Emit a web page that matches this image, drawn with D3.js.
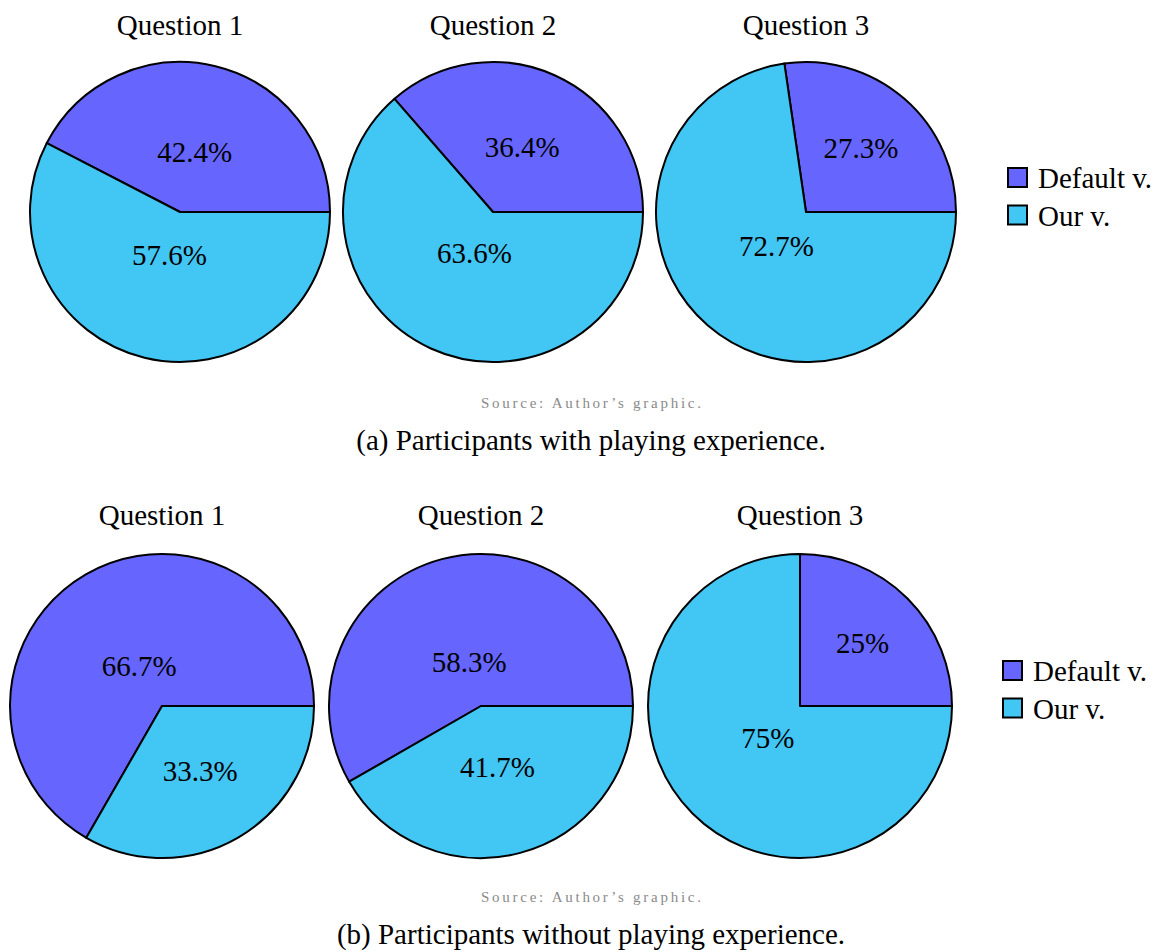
<!DOCTYPE html>
<html>
<head>
<meta charset="utf-8">
<script src="https://cdn.jsdelivr.net/npm/d3@7"></script>
<style>
  html, body { margin: 0; padding: 0; background: #fff; }
  svg { display: block; }
  text { font-family: "Liberation Serif", "Times New Roman", serif; fill: #000; }
</style>
</head>
<body>
<svg id="chart" width="1168" height="952"></svg>
<script>
// ---- data ----
const questions = ["Question 1", "Question 2", "Question 3"];
const seriesNames = ["Default v.", "Our v."];
const withExpDefault = [42.4, 36.4, 27.3];
const withExpOur = [57.6, 63.6, 72.7];
const withoutExpDefault = [66.7, 58.3, 25];
const withoutExpOur = [33.3, 41.7, 75];
const sourceText = "Source: Author\u2019s graphic.";
const captions = ["(a) Participants with playing experience.", "(b) Participants without playing experience."];

// ---- styles ----
const colors = d3.scaleOrdinal().domain(seriesNames).range(["#6666ff", "#42c6f4"]);

const svg = d3.select("#chart");

const panels = [
  { def: withExpDefault, our: withExpOur, x0: 180, x1: 806, cy: 212, r: 150, titleY: 35,
    legendX: 1008, legendY: 168, sourceY: 408, captionY: 450, caption: captions[0] },
  { def: withoutExpDefault, our: withoutExpOur, x0: 162, x1: 800, cy: 706, r: 152, titleY: 525,
    legendX: 1003, legendY: 661, sourceY: 902, captionY: 944, caption: captions[1] }
];

// counter-clockwise starting at 3 o'clock
const pie = d3.pie().sort(null).value(d => d.value)
  .startAngle(Math.PI / 2).endAngle(Math.PI / 2 - 2 * Math.PI);

panels.forEach(p => {
  const x = d3.scalePoint().domain(questions).range([p.x0, p.x1]);
  const arc = d3.arc().innerRadius(0).outerRadius(p.r);

  questions.forEach((q, i) => {
    const data = [
      { name: seriesNames[0], value: p.def[i] },
      { name: seriesNames[1], value: p.our[i] }
    ];
    const g = svg.append("g").attr("transform", `translate(${x(q)},${p.cy})`);
    const arcs = pie(data);
    g.selectAll("path").data(arcs).join("path")
      .attr("d", arc)
      .attr("fill", d => colors(d.data.name))
      .attr("stroke", "#000")
      .attr("stroke-width", 2)
      .attr("stroke-linejoin", "round");

    g.selectAll("text.lbl").data(arcs).join("text")
      .attr("class", "lbl")
      .attr("text-anchor", "middle")
      .attr("font-size", 29)
      .attr("dy", "0.33em")
      .attr("transform", d => {
        const span = Math.abs(d.endAngle - d.startAngle) * 180 / Math.PI;
        const f = Math.max(Math.min((span - 10) / 110 * (-0.3), 0), -0.5) + 0.8;
        const mid = (d.startAngle + d.endAngle) / 2;
        const rr = f * p.r;
        return `translate(${rr * Math.sin(mid)},${-rr * Math.cos(mid)})`;
      })
      .text(d => d.data.value + "%");

    svg.append("text")
      .attr("x", x(q)).attr("y", p.titleY)
      .attr("text-anchor", "middle")
      .attr("font-size", 29)
      .text(q);
  });

  // legend
  const lg = svg.append("g").attr("transform", `translate(${p.legendX},${p.legendY})`);
  const items = lg.selectAll("g").data(seriesNames).join("g")
    .attr("transform", (d, i) => `translate(0,${i * 37.5})`);
  items.append("rect")
    .attr("x", 0).attr("y", 0).attr("width", 19).attr("height", 19)
    .attr("fill", d => colors(d))
    .attr("stroke", "#000").attr("stroke-width", 2);
  items.append("text")
    .attr("x", 30).attr("y", 10).attr("dy", "0.35em")
    .attr("font-size", 29)
    .text(d => d);

  svg.append("text")
    .attr("x", 591).attr("y", p.sourceY)
    .attr("text-anchor", "middle")
    .attr("font-size", 15)
    .attr("textLength", 220).attr("lengthAdjust", "spacing")
    .style("fill", "#8a8a8a")
    .text(sourceText);

  svg.append("text")
    .attr("x", 591).attr("y", p.captionY)
    .attr("text-anchor", "middle")
    .attr("font-size", 29)
    .text(p.caption);
});
</script>
</body>
</html>
